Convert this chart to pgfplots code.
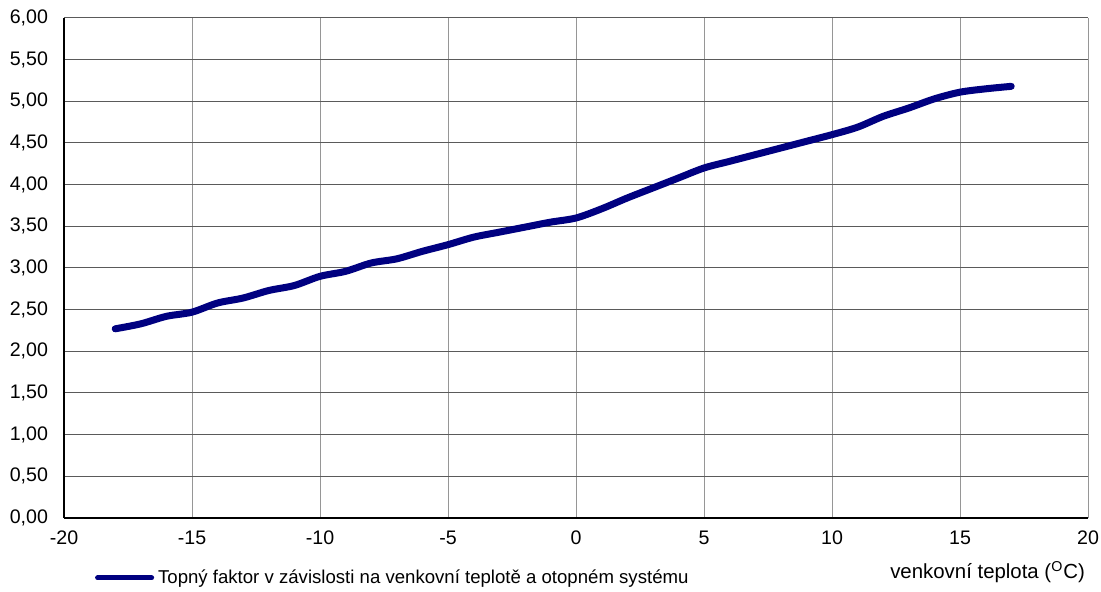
\documentclass[border=0pt]{standalone}
\usepackage{pgfplots}
\pgfplotsset{compat=1.18}
\usepackage{fontspec}
\setmainfont{Liberation Sans}
\definecolor{navyline}{RGB}{0,0,128}
\definecolor{hgrid}{RGB}{90,90,90}
\definecolor{vgrid}{RGB}{150,150,150}
\begin{document}
\begin{tikzpicture}
\begin{axis}[
  name=ax,
  scale only axis,
  width=512pt, height=250pt,
  xmin=-20, xmax=20, ymin=0, ymax=6,
  xtick={-20,-15,...,20}, ytick={0,0.5,...,6},
  axis lines=left,
  axis line style={black, -, line width=0.6pt},
  grid=major,
  x grid style={vgrid, line width=0.5pt},
  y grid style={hgrid, line width=0.5pt},
  major tick length=0pt,
  ticklabel style={font=\fontsize{9.8}{11}\selectfont},
  /pgf/number format/assume math mode=true,
  y tick label style={xshift=-4.5pt},
  yticklabel style={/pgf/number format/.cd, fixed, fixed zerofill, precision=2, use comma},
  xticklabel style={yshift=-3pt},
  xlabel={venkovní teplota (\textsuperscript{O}C)},
  xlabel style={at={(axis description cs:1,0)}, anchor=east, yshift=-27pt, xshift=2pt, font=\fontsize{10.2}{12}\selectfont},
  legend style={at={(axis description cs:0.03,-0.12)}, anchor=west, draw=none, fill=none, font=\fontsize{9.3}{11}\selectfont, inner sep=0pt},
  legend image code/.code={\draw[#1, line width=2.5pt] (0pt,0pt) -- (27pt,0pt);},
  legend cell align=left,
]
\addplot[navyline, line width=3.5pt, smooth, line cap=round] coordinates {
(-18,2.27) (-17,2.33) (-16,2.42) (-15,2.47) (-14,2.58) (-13,2.64) (-12,2.73) (-11,2.79)
(-10,2.90) (-9,2.96) (-8,3.06) (-7,3.11) (-6,3.20) (-5,3.28) (-4,3.37) (-3,3.43)
(-2,3.49) (-1,3.55) (0,3.60) (1,3.71) (2,3.84) (3,3.96) (4,4.08) (5,4.20)
(6,4.28) (7,4.36) (8,4.44) (9,4.52) (10,4.60) (11,4.69) (12,4.82) (13,4.92)
(14,5.03) (15,5.11) (16,5.15) (17,5.18)
};
\addlegendentry{Topný faktor v závislosti na venkovní teplotě a otopném systému}
\end{axis}
\pgfresetboundingbox
\path[use as bounding box] ([shift={(-32pt,-37pt)}]ax.south west) rectangle ([shift={(6.5pt,9pt)}]ax.north east);
\end{tikzpicture}
\end{document}
